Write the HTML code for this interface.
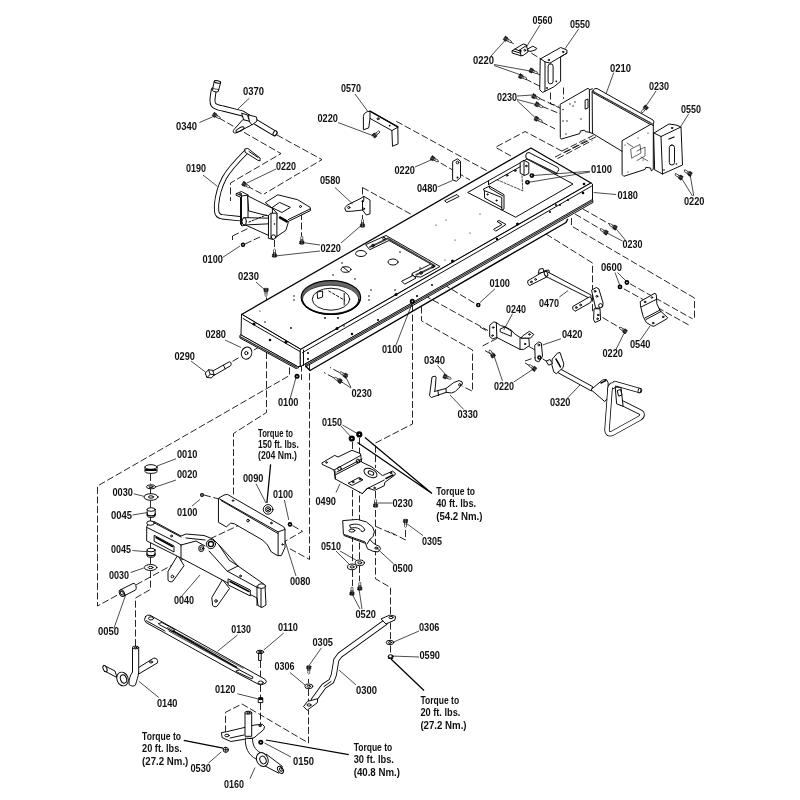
<!DOCTYPE html>
<html><head><meta charset="utf-8"><style>
html,body{margin:0;padding:0;background:#fff;width:800px;height:800px;overflow:hidden}
svg{display:block;filter:grayscale(100%)}
.s{stroke:#000;stroke-width:0.95;fill:none;stroke-linejoin:round;stroke-linecap:round}
.s .w,.w{fill:#fff}
.s .f,.f{fill:#000;stroke:none}
.h{stroke-width:1.3;stroke-dasharray:0.5 0.7;stroke:#333}
.d{stroke:#000;stroke-width:0.85;fill:none;stroke-dasharray:7 2.6}
.ld{stroke:#000;stroke-width:0.7;fill:none}
.l text{font-family:"Liberation Sans",sans-serif;font-size:11.2px;font-weight:bold;fill:#111}
.t text{font-family:"Liberation Sans",sans-serif;font-weight:bold;fill:#111}
</style></head><body>
<svg width="800" height="800" viewBox="0 0 800 800">
<rect width="800" height="800" fill="#fff"/>
<g id="dashed" class="d">
<path d="M219,118 L281,153.6 L230.5,183 L230.5,201"/>
<path d="M277,135 L322,159.6 L264,194"/>
<path d="M247,186 L262,194"/>
<path d="M232.5,236 L250,227.5 M232.5,236 L232.5,240"/>
<path d="M301.5,213 L301.5,238 M274.5,240 L274.5,250"/>
<path d="M245,244 L262,236"/>
<path d="M289.5,367.5 L289.5,375.5 L97.5,486 L97.5,606 L205,547"/>
<path d="M150.5,571 L150.5,589.4 L135.5,598 L135.5,646"/>
<path d="M150.5,474 L150.5,484 M150.5,489 L150.5,494 M150.5,500.5 L150.5,508 M150.5,518 L150.5,521 M150.5,542 L150.5,548 M150.5,557.5 L150.5,564.5"/>
<path d="M266.5,352 L266.5,412.5 L233.5,433.5 L233.5,496"/>
<path d="M309.5,354 L309.5,559.5 L287.5,547.5"/>
<path d="M204,495 L219,499"/>
<path d="M210,538.8 L247.5,521.3"/>
<path d="M292.5,525.6 L302.5,531.3 L285,541.3"/>
<path d="M232.5,361.3 L241,356.5 M253.8,350 L267.5,342.5"/>
<path d="M266.5,297.5 L266.5,312.5"/>
<path d="M301.5,355 L301.5,380"/>
<path d="M348,377 L330,367.5 M342.5,382.5 L324,372.5"/>
<path d="M352.5,442 L352.5,520 M352.5,535 L352.5,564 M352.5,570 L352.5,586"/>
<path d="M359.5,438 L359.5,520 M359.5,533 L359.5,560 M359.5,566 L359.5,581"/>
<path d="M375.5,491 L375.5,501 M375.5,510 L375.5,578.8 L390.5,587.5 L390.5,614"/>
<path d="M375.5,526.3 L395,535"/>
<path d="M405.5,530 L405.5,540 L388,531"/>
<path d="M412.5,305 L412.5,424 L375.5,443 L375.5,468"/>
<path d="M260.5,661 L260.5,680 M260.5,685 L260.5,697 M260.5,703 L260.5,724"/>
<path d="M225.5,732.5 L225.5,712.3 L242,704 L308.5,743 L308.5,710 M308.5,679 L308.5,683 M308.5,689 L308.5,703"/>
<path d="M390.5,622.5 L390.5,640 M390.5,645.5 L390.5,653.5"/>
<path d="M630,283.8 L692.5,318.8 M623.8,288.8 L688.8,325"/>
<path d="M602.5,317.5 L623.8,330"/>
<path d="M416,290.8 L488,330.5 M435.5,279.5 L477.5,305"/>
<path d="M421.5,306.5 L421.5,320.8 L472.5,350 L472.5,391.3 L462.5,386.3"/>
<path d="M482.5,346 L498.8,337.5 M485,350.6 L492.5,355"/>
<path d="M525,361 L535,357.5 M525,363 L533.8,368 M528.8,346.3 L535,350 M542.5,358.8 L548,362"/>
<path d="M480,327 L487.5,331.3"/>
<path d="M507.5,40.5 L515,44.4 M531.3,53.1 L540.6,58.8 M535,72.5 L540,75 M525,78.8 L540,86.3"/>
<path d="M550.5,92.5 L550.5,103.8 L558.8,106.3 M563.5,87.5 L563.5,98.8"/>
<path d="M538.8,98.1 L560,108.1 M541.9,106.3 L560,113.8 M541.3,121.9 L555,128.8"/>
<path d="M511,156 L495.4,147.3 L525.1,131.5 L564.5,152.5"/>
<path d="M564.5,152.5 L596,136.8 M562,151 L593.5,135.3 M557.5,158.6 L592.5,140.3 M555,157.1 L590,138.8"/>
<path d="M583,209 L612,225.5 M575,214 L603,230.5"/>
<path d="M571.5,218 L571.5,226 L694.5,298 L694.5,320 M546,234 L592.5,263 L592.5,312"/>
<path d="M690,174 L683,169 M681,177.5 L674,173"/>
<path d="M396.3,121.3 L490,172.5 M432.5,158.3 L470,180"/>
<path d="M362.5,187.5 L412.5,215 M362.5,187.5 L362.5,195 M362.5,215 L362.5,222"/>
<path d="M374.5,135.5 L380,132"/>
</g>

<g id="frame" class="s">
<path class="w" d="M241.5,314.5 L531,148 L591,183 L300.5,349.5 Z" stroke-width="1.25"/>
<path class="w" d="M241.5,314.5 L241,335 L297.5,366.5 L300.5,366.5 L300.5,349.5 Z"/>
<path class="w" d="M300.5,349.5 L591,183 L592.5,184 L592.5,201 L300.5,366.5 Z"/>
<path d="M243,318.5 L299.5,351.3"/>
<path d="M302.5,352.6 L591.5,186.2"/>
<path d="M303.5,350 L303.5,365.5"/>
<!-- end flange -->
<path class="w" d="M240,335.5 L240,338 L296,368.5 L299,367.5 L297.5,366.5 L241,335Z"/>
<path class="h" d="M240,336.7 L297,367.5"/>
<!-- front flange -->
<path class="w" d="M306,363.6 L592.5,199.4 L593,202.4 L306,366.6 Z"/>
<path class="h" d="M306,365.1 L592.5,200.9"/>
<path d="M310,370.5 L566,222.5 L567.5,219.5 M310,370.5 L306,366.6" stroke-width="1.4"/>
<!-- rivets/holes on frame -->
<g class="f">
<circle cx="254" cy="324" r="1.6"/><circle cx="286" cy="342" r="1.6"/>
<circle cx="270" cy="340" r="1.3"/>
<circle cx="337" cy="328.5" r="1.5"/><circle cx="396" cy="294.5" r="1.5"/>
<circle cx="452.5" cy="261" r="1.5"/><circle cx="517.5" cy="224" r="1.5"/>
<circle cx="308" cy="353" r="1"/><circle cx="308" cy="359" r="1"/>
<circle cx="352" cy="334" r="1.2"/><circle cx="378" cy="320" r="1.1"/>
<circle cx="417" cy="296" r="1.1"/><circle cx="432" cy="285" r="1"/>
<circle cx="497" cy="239" r="1.2"/><circle cx="550" cy="212" r="1"/>
<circle cx="560" cy="205" r="1"/><circle cx="568" cy="200" r="1"/>
<circle cx="583" cy="193" r="1.3"/><circle cx="584" cy="184" r="1.3"/>
<circle cx="556" cy="205" r="1"/>
</g>
<!-- top face holes -->
<g class="f">
<circle cx="265" cy="322" r="0.8"/><circle cx="260" cy="311" r="0.6"/><circle cx="291" cy="328" r="0.9"/>
<circle cx="294" cy="300" r="0.8"/><circle cx="294" cy="296" r="0.8"/>
<circle cx="369" cy="296" r="0.8"/><circle cx="369" cy="300" r="0.8"/>
<circle cx="325" cy="318" r="0.9"/><circle cx="338" cy="318" r="0.9"/>
<circle cx="344" cy="326" r="0.8"/><circle cx="341" cy="309" r="0.8"/>
<circle cx="355" cy="279" r="0.8"/><circle cx="333" cy="275" r="0.8"/>
<circle cx="342" cy="263" r="0.8"/><circle cx="400" cy="252" r="0.8"/>
<circle cx="395" cy="290" r="0.8"/><circle cx="371" cy="290" r="0.8"/>
<circle cx="412" cy="275" r="0.8"/><circle cx="420" cy="268" r="0.8"/>
<circle cx="445" cy="260" r="0.6"/><circle cx="455" cy="240" r="0.6"/>
<circle cx="470" cy="233" r="0.6"/><circle cx="480" cy="214" r="0.6"/>
<circle cx="436" cy="225" r="0.6"/><circle cx="446" cy="220" r="0.6"/>
<circle cx="505" cy="193" r="0.6"/><circle cx="507" cy="196" r="0.6"/>
</g>
<!-- ring -->
<ellipse cx="330.9" cy="297.5" rx="29.75" ry="16.9" fill="#666" stroke="#000" stroke-width="1.1"/>

<ellipse class="w" cx="330.6" cy="299.4" rx="28.1" ry="14.2" stroke-width="0.7"/>
<path d="M302,300 C305,310 320,314.4 331,314.4 C342,314.4 357,310 360,300" stroke-width="1.3"/>
<ellipse class="w" cx="331" cy="299.2" rx="18.75" ry="11" stroke-width="0.9"/>
<path d="M317.5,292 L322.6,291 L322.6,297 L318,298.5 Z"/>
<path d="M328.8,291 L344.7,300.3" stroke-dasharray="2.5 2"/>
<path d="M344.2,293.3 L344.2,305"/>
<!-- ribbed plate -->
<path class="w" d="M366,244.5 L386,235.5 L440,266.5 L421,277 L414,276.5 L412,273.5 L431,264 L389,240.5 L370,249.5 Z"/>
<path d="M370,247 L388,238.5 L435,266 L416,275" stroke-width="1.8" stroke="#444" stroke-dasharray="0.5 0.6"/>
<circle cx="373" cy="245.5" r="1.3"/><circle cx="384" cy="238.5" r="1.3"/>
<circle cx="421" cy="273" r="1.3"/><circle cx="433" cy="266.5" r="1.3"/>
<!-- holes on plate area -->
<ellipse class="w" cx="361" cy="253.5" rx="5.5" ry="3"/>
<ellipse class="w" cx="346" cy="269.5" rx="5" ry="2.8"/>
<path d="M343,267 L349,272"/>
<ellipse class="w" cx="393" cy="262" rx="5" ry="3"/>
<path class="w" d="M402,281 L413,275.5 L416,278 L405,284 Z"/>
<path class="w" d="M445,200.5 L457,194.5 L459,196.5 L447,202.5 Z"/>
<path class="w" d="M494,229 L502,224.5 L497,221.5 L499,220.5 L506,224.5 L496,231 Z"/>
<!-- rear opening -->
<path class="w" d="M468,192.3 L527,159 L573,184 L516,217 Z"/>
<path d="M488.5,184.6 L521.5,166 M488.5,181 L488.5,184.6"/>
<circle cx="507" cy="175.3" r="0.9"/><circle cx="515.2" cy="170.6" r="0.9"/>
<path d="M522,175.8 L522.8,190.8 L496.5,179.5" stroke-dasharray="2.2 1.5" stroke-width="0.7"/>
<!-- hat bracket inside -->
<path class="w" d="M483.8,188.8 L489.5,186.2 L504,194.6 L504,209 L501.8,210 L501.8,197.5 L484.4,190.6 Z"/>
<path d="M484.4,190.6 L484.6,198 L501.8,207.5 M489.5,186.2 L489.5,188.2 L503,196"/>
<circle cx="487.5" cy="194.5" r="0.6"/><circle cx="496.5" cy="200.5" r="0.6"/>
<!-- rear top rail -->
<path class="w" d="M520.5,162.3 L524,160.3 L528.8,162.8 L528.8,173.5 L524.5,175.5 L520.5,173.3 Z"/>
<path d="M524,160.5 L524,175.3"/><circle cx="526.3" cy="166" r="0.8"/>
<path class="w" d="M526,157.8 L525.8,155 Q526.5,152.3 529,152.5 L558,167.5 Q559.5,169.5 558,171.5 L556.5,172.8 Z"/>
<path class="h" d="M528.5,159.6 L557,173.6"/>
</g>

<g id="ul" class="s">
<!-- lever 0370 rod -->
<path d="M213.8,90 C213,96 211.3,101 213.3,104.5 C215.3,107.3 219,107.8 223,108.5 L242,113.3 L253,120.3 L274.5,133.3" stroke-width="6"/>
<path d="M213.8,90 C213,96 211.3,101 213.3,104.5 C215.3,107.3 219,107.8 223,108.5 L242,113.3 L253,120.3 L274.5,133.3" stroke="#fff" stroke-width="4.1"/>
<path class="w" d="M214.2,81.4 L212.4,90.6 C213.5,91.8 216.5,92.2 218.2,91.7 L220.7,82.4 Z"/>
<ellipse class="w" cx="217.5" cy="81.9" rx="3.2" ry="1.2" transform="rotate(12 217.5 81.9)"/>
<path d="M213,88.6 L218.8,89.6" stroke-width="0.7"/>
<path class="w" d="M242.5,120 L234,129.5 C232,132 234,134 237,132.5 L251.5,125 L253,120 Z"/>
<ellipse cx="240" cy="129.5" rx="4.5" ry="1.6" transform="rotate(-30 240 129.5)"/>
<path class="w" d="M249,115 L256.5,117 L257,121 L252,125 L249,121 Z"/>
<path class="w" d="M242,113.3 L247.5,115 L249.5,121.3 L244,119.8 Z"/>
<ellipse class="w" cx="275" cy="133.2" rx="1.7" ry="2.6" transform="rotate(30 275 133.2)"/>
<!-- 0340 screw -->

<!-- pedal 0190 -->
<path d="M246.5,151.5 C238,160 229.5,168.5 224.3,178 C219.5,187 217.2,197 216.5,205 L216.6,211 C216.8,214.5 218.7,216.2 222,216.8 L240,218.7" stroke-width="5.2"/>
<path d="M246.5,151.5 C238,160 229.5,168.5 224.3,178 C219.5,187 217.2,197 216.5,205 L216.6,211 C216.8,214.5 218.7,216.2 222,216.8 L240,218.7" stroke="#fff" stroke-width="3.4"/>
<path class="w" d="M245,149 L247.8,148.4 L260.1,158 L260.1,160.8 L257.9,160.3 L245.5,152.5 Z"/>
<path d="M249,151.5 L258,157.5"/>
<!-- bracket -->
<path class="w" d="M236.5,193.5 L241.5,191.5 L248,195 L248,224 L242,226 L240.5,224 L240.5,197 L236.5,195.5 Z"/>
<path d="M241.5,195.8 L241.5,225.5 M236.5,193.5 L242,196 L248,195"/>
<circle cx="240.5" cy="194" r="0.9"/>
<path class="w" d="M248,196 L272.4,208.3 L272.4,217 L249,211 Z"/>
<path class="w" d="M244,217.6 L285,218.6 L286,223 L244.5,225 Z"/>
<ellipse class="w" cx="244.2" cy="221.4" rx="2.2" ry="3.6"/>
<path d="M245,224.8 L268.8,235.5"/>
<path d="M249,222 L266.3,215" stroke-dasharray="2 1.6"/>
<path class="w" d="M265.6,202.4 L277.8,194.8 L297.6,199.7 L310.2,207.4 L310.6,210.5 L288.6,221.3 L285.9,230.3 L276,237 L276.9,213.2 L272.4,208.3 Z"/>
<path d="M310.2,208.9 L288.3,219.6"/>
<path class="w" d="M272.4,207.4 L279.6,202.4 L290.4,207.4 L282.3,212.3 Z"/>
<path d="M280,217.5 L287,221.5" stroke-width="2.6" stroke-dasharray="0.6 0.6"/>
<path class="w" d="M268.8,215 L270.6,213.2 L276.9,213.2 L276.9,236.6 L273,239.5 L268.8,238.4 Z"/>
<path d="M271,213.5 L271,238.5"/>
<circle class="w" cx="273.5" cy="237" r="2.2"/>
<circle cx="274.5" cy="224" r="0.8" class="f"/>
<circle cx="300.5" cy="206.5" r="1" />
<!-- screws -->
<circle class="f" cx="243" cy="244.7" r="2.2"/><circle cx="243" cy="244.7" r="0.7" fill="#fff" stroke="none"/>
</g>

<g id="axle" class="s">
<!-- stack 0010..0045 -->
<path class="w" d="M145,467 L145,471.5 C145,474 157,474 157,471.5 L157,467 Z"/>
<ellipse class="w" cx="151" cy="467" rx="6" ry="2.3"/>
<path d="M146,470 L156,470" stroke-width="2.2" stroke-dasharray="0.6 0.7"/>
<ellipse class="w" cx="151" cy="486.8" rx="4.5" ry="2"/><ellipse cx="151" cy="486.8" rx="2" ry="0.9"/>
<ellipse class="w" cx="151" cy="497" rx="7" ry="3.3"/><ellipse cx="151" cy="497" rx="2.6" ry="1.2"/>
<path class="w" d="M147.2,509.5 L147.2,515.5 C147.2,518.3 155.2,518.3 155.2,515.5 L155.2,509.5 Z"/>
<ellipse class="w" cx="151.2" cy="509.5" rx="4" ry="1.8"/>
<path d="M147.2,514 C147.2,516.5 155.2,516.5 155.2,514" stroke-width="1.4"/>
<path class="w" d="M147,550 L147,555.5 C147,558 155,558 155,555.5 L155,550 Z"/>
<ellipse class="w" cx="151" cy="550" rx="4" ry="1.8"/>
<path d="M147,554 C147,556.3 155,556.3 155,554" stroke-width="1.4"/>
<ellipse class="w" cx="150.6" cy="567.5" rx="6.3" ry="3"/><ellipse cx="150.6" cy="567.5" rx="2.4" ry="1.1"/>
<!-- pin 0050 -->
<path class="w" d="M120.5,589.8 L133,583.5 C136,582.5 137,588.5 135.5,590 L123.2,596.4 Z"/>
<ellipse class="w" cx="121.9" cy="593.1" rx="2.4" ry="3.4" transform="rotate(-25 121.9 593.1)"/>
<ellipse cx="121.9" cy="593.1" rx="1.3" ry="2" transform="rotate(-25 121.9 593.1)"/>
<!-- axle tabs -->
<path class="w" d="M177.6,555.5 L168,571.3 L168,580 C168.5,582 171.5,582.5 173,581 L183.8,566 Z"/>
<circle cx="172.4" cy="576.5" r="1.3"/>
<path class="w" d="M222.3,580 L211.8,597.5 L212.6,605.4 C214,607 216,607 217,606.3 L229.3,588.8 Z"/>
<circle cx="216" cy="601" r="1.3"/>
<!-- axle body -->
<path class="w" d="M147,526 L150,522 L154,521.5 L181,536 L186,534 L204,535.5 L213,539 L219,545 L238,566 L258,580 L265,585 L266,605 L262,607.5 L258,605.5 L257,598 L228,583 L181,558 L147,541 Z"/>
<path d="M147,527.5 L177,542.5 L181,545 M181,545 L181,558"/>
<path d="M153.5,522.5 L181,537"/>
<path class="w" d="M154.5,535.5 L174,546 L174,552 L154.5,541.5 Z"/>
<path d="M156,537.5 L172.5,546.5" stroke-width="1.5"/>
<path d="M181,545 L196,541 L205,546 M186,538 L205,540"/>
<path d="M209,551 L227,571 L258,588 M219,545 L229,560 L238,566"/>
<path d="M228,571 L238,566"/>
<path class="w" d="M228.4,579 L250.3,590 L250.3,596 L228.4,585 Z"/>
<path d="M230,581.5 L249,591.5" stroke-width="1.5"/>
<path d="M257,586 L257,605.5 M261,588 L261,607"/>
<ellipse class="w" cx="261.6" cy="586.1" rx="4" ry="2.3"/>
<ellipse class="w" cx="150.5" cy="523.1" rx="3.8" ry="2.2"/>
<circle class="w" cx="210.9" cy="544.1" r="4.6"/><circle cx="210.9" cy="544.1" r="2.6" stroke-width="1.3"/>
<ellipse class="w" cx="201.3" cy="548.5" rx="2.6" ry="3.2"/><ellipse cx="201.3" cy="548.5" rx="1.2" ry="1.6"/>
<circle cx="171.5" cy="536" r="0.9"/><circle cx="240.5" cy="576" r="0.9"/>
<!-- block 0080 -->
<path class="w" d="M218.8,498.1 L224,495 L227.5,494.4 L283.8,526.9 L285,529.4 L285,547.5 L281.3,555.6 L277.5,555.6 L271.3,551.9 L267.5,545 L262.5,540 L234.4,523.8 L230.6,523.1 L226.3,526.9 L218.8,522.5 Z"/>
<path d="M219.4,498.8 L278.1,531.9 L285,529.4 M221,500.5 L278,533.5 M278.1,531.9 L278.1,555.6"/>
<circle cx="233" cy="500.6" r="0.8"/><circle cx="271.3" cy="523" r="0.8"/>
<circle cx="248" cy="520.6" r="1.3"/><circle cx="282.5" cy="544.4" r="0.7"/>
<!-- nuts -->
<circle class="w" cx="268.1" cy="509.4" r="4.8"/><circle cx="268.1" cy="509.4" r="2.7"/><circle cx="268.1" cy="509.4" r="1.3"/>
<circle class="f" cx="290" cy="524.4" r="2.3"/><circle cx="290" cy="524.4" r="0.7" fill="#fff" stroke="none"/>
<circle class="f" cx="202" cy="495" r="2"/><circle cx="202" cy="495" r="0.7" fill="#fff" stroke="none"/>
</g>

<g id="mid" class="s">
<!-- 0280 washer, 0290 bolt -->
<ellipse class="w" cx="246.6" cy="353.1" rx="5.2" ry="6.2" transform="rotate(20 246.6 353.1)"/>
<circle cx="246.3" cy="353.1" r="1.6"/>
<path class="w" d="M212.5,371.2 L229.3,361.8 C231,361.3 232,364.5 230.5,365.8 L213.8,375.5 Z"/>
<path d="M223.5,365.2 L225.2,368.8"/>
<path class="w" d="M205.5,372.8 L208.5,369.8 L212.5,370.3 L214.3,374.8 L211.3,378 L207.2,377.4 Z"/>
<path d="M208.5,369.8 L210.2,374.2 L214.3,374.8 M210.2,374.2 L207.2,377.4"/>
<!-- 0230 screw above frame -->

<!-- 0100 nut under frame -->
<circle class="f" cx="297" cy="376.3" r="2.5"/><circle cx="297" cy="376.3" r="0.7" fill="#fff" stroke="none"/>
<!-- 0230 screws right of frame end -->
<!-- 0150 nuts -->
<circle class="f" cx="351.8" cy="438.5" r="3.1"/><circle cx="351.8" cy="438.5" r="0.7" fill="#fff" stroke="none"/>
<circle class="f" cx="359.3" cy="434.4" r="3.1"/><circle cx="359.3" cy="434.4" r="0.7" fill="#fff" stroke="none"/>
<!-- 0490 plate -->
<path class="w" d="M322.3,462.7 L334.7,455.4 L338,457 L352,450.3 L360.6,453.7 L361.5,462 L372,467 L382.5,475.6 L392.6,471.1 L395.4,473.4 L394.9,475 L384.8,482.4 L384.2,485.8 L374.6,490.3 L368,488 L362.3,493.6 L335.3,479 L334.1,470 L322.5,464.5 Z"/>
<path d="M334.1,470 L360.6,455.5 M335.3,479 L335,471 M337,472 L362,459 M336,474.5 L361,461.5"/>
<path d="M362.3,493.6 L366.5,489 L368,488 M366.5,489 L384.2,480"/>
<ellipse class="w" cx="370.5" cy="473" rx="7" ry="4" transform="rotate(25 370.5 473)"/>
<ellipse cx="371" cy="473" rx="3" ry="1.8" transform="rotate(25 371 473)"/>
<path class="w" d="M348.5,483 L359,477.5 L363,479.8 L352.5,485.3 Z"/>
<circle cx="353" cy="482" r="0.9"/><circle cx="360" cy="479" r="0.9"/>
<circle cx="358" cy="461" r="1.8"/><circle cx="339.5" cy="468.5" r="1.8"/>
<circle cx="326.5" cy="462.5" r="0.8"/><circle cx="391" cy="473" r="0.8"/><circle cx="374.5" cy="488" r="0.8"/>
<path d="M386,478.5 L393,475" stroke-width="1.6" stroke-dasharray="0.6 0.6"/>
<!-- 0230 screw below 0490 -->

<!-- 0305 -->

<!-- 0500 -->
<path class="w" d="M343.1,520.6 L357.5,519.4 L366.3,521.9 L372.5,526.9 L374.4,531.9 L373.1,536.3 L370,539.4 L372.5,542.5 L376.3,545 L379.4,546.3 L380.6,548.8 L378.1,551.9 L373.1,551.3 L367.5,548.8 L365,541.9 L343.8,534.4 Z"/>
<path d="M344,535.5 L364.5,543 M370,539.4 L367,544"/>
<ellipse cx="351.9" cy="530.6" rx="3" ry="1.5"/>
<path d="M350,525 C356,523 362,524 365,530 L362,532 C360,528 356,527 351,528 Z"/>
<ellipse cx="376.3" cy="548.1" rx="1.6" ry="1"/>
<!-- 0510 washers -->
<ellipse class="w" cx="359.8" cy="562.8" rx="4.6" ry="2.8"/><ellipse cx="359.8" cy="562.8" rx="2" ry="1.1"/>
<ellipse class="w" cx="352.1" cy="566.9" rx="4.6" ry="2.8"/><ellipse cx="352.1" cy="566.9" rx="2" ry="1.1"/>
<!-- 0520 screws -->


</g>

<g id="low" class="s">
<!-- tie rod 0130 -->
<path class="w" d="M145.5,616.5 Q147,614.5 150,615.2 L264.9,679.2 Q267.5,681.3 265.5,683.3 L262,684.6 Q260,685.2 258,684 L237,673 L165,633 L146,622.5 Q143,620 145.5,616.5 Z"/>
<path d="M146.5,620.8 L165,631"/>
<ellipse class="w" cx="151" cy="618.4" rx="2.6" ry="1.6"/>
<ellipse class="w" cx="260.7" cy="682.6" rx="2.6" ry="1.6"/>
<path class="w" d="M158.6,623.5 L162,622.5 L174.5,629.5 L173.5,632 L160,625 Z"/>
<path d="M167.5,627.5 L243,668.2 M168.7,629.8 L240,669.5 M169,631.2 L238,669" stroke-width="0.7"/>
<path d="M173,631 L237,667.5" stroke-width="1.4" stroke-dasharray="0.5 0.6"/>
<path class="w" d="M236.2,671 L239.5,670 L253,677 L252,679 L238,672.5 Z"/>
<!-- 0110 bolt -->
<ellipse class="w" cx="260" cy="652" rx="3.6" ry="1.8"/><ellipse cx="260" cy="652" rx="1.6" ry="0.8"/>
<path class="w" d="M259,653.5 L261.2,653.5 L261.2,660.5 L259,660.5 Z"/>
<!-- 0120 nut -->
<path class="w" d="M258.6,698 L262.8,698 L262.8,702.6 L258.6,702.6 Z"/><ellipse class="f" cx="260.7" cy="698.6" rx="2.4" ry="1.6"/>
<!-- spindle 0140 -->
<path class="w" d="M137.5,668.2 L153.8,658.1 Q156.8,657.6 157.6,660.5 L157.6,662.8 L139,673.8 Z"/>
<ellipse cx="151" cy="662" rx="1.6" ry="1"/>
<path class="w" d="M132.5,647.5 L132.5,672 C130.5,675 128.5,679.5 129,684.5 C131,686.5 134,686.5 135.5,685 C136.5,681 138.5,676 138.7,672 L138.7,647.5 Z"/>
<ellipse class="w" cx="135.6" cy="647.5" rx="3.1" ry="1.4"/><ellipse cx="135.6" cy="647.5" rx="1.3" ry="0.6"/>
<path class="w" d="M104,665.5 L115,671 L117,677.5 L106,671.8 Z"/>
<ellipse class="w" cx="105" cy="668.7" rx="1.8" ry="3.3" transform="rotate(-25 105 668.7)"/>
<ellipse class="w" cx="122.5" cy="679" rx="5.6" ry="7" transform="rotate(-20 122.5 679)"/>
<ellipse cx="123.5" cy="679" rx="3" ry="4.2" transform="rotate(-20 123.5 679)"/>
<!-- spindle 0160 -->
<path class="w" d="M221.8,732.5 L226.3,731.8 L254.8,725 L262.3,724.3 L264.5,726.5 L263.8,729.5 L254,737.8 L244.3,739.3 L230.8,741.5 L222.5,737.8 Z"/>
<ellipse cx="227" cy="735.5" rx="2.2" ry="1.3"/><ellipse cx="260" cy="725.8" rx="1.2" ry="0.8"/>
<path d="M230,738 L244,735" />
<path class="w" d="M245.3,738.5 C245,748 248.5,755 256,759 L260,752.5 C255,749.5 252.5,745 252.5,739 Z" stroke-width="0.9"/>
<path class="w" d="M245,712.7 L245,736.3 L251.7,736.3 L251.7,712.7 Z"/>
<ellipse class="w" cx="248.3" cy="712.7" rx="3.3" ry="1.5"/><ellipse cx="248.3" cy="712.7" rx="1.5" ry="0.7"/>
<path class="w" d="M266.5,754.3 L282.3,766.3 L278.8,773.2 L263.5,765.2 Z"/>
<ellipse class="w" cx="280.5" cy="769.8" rx="2.5" ry="3.9" transform="rotate(-35 280.5 769.8)"/>
<ellipse cx="280.9" cy="769.6" rx="1.1" ry="1.9" transform="rotate(-35 280.9 769.6)"/>
<ellipse class="w" cx="262.3" cy="759.5" rx="5.6" ry="7.2" transform="rotate(-25 262.3 759.5)"/>
<ellipse cx="263" cy="760" rx="3" ry="4" transform="rotate(-25 263 760)"/>
<!-- 0150, 0530 nuts -->
<circle class="f" cx="260.8" cy="742.3" r="2.5"/><circle cx="260.8" cy="742.3" r="0.7" fill="#fff" stroke="none"/>
<circle class="w" cx="225.8" cy="749.8" r="2.6"/><path d="M223.5,749.8 L228,749.8 M225.8,747.5 L225.8,752"/>
<!-- drag link 0300 -->
<path d="M313.8,700 L323.8,686.3 L331.3,681.3 L333.8,675 L336.3,660 L340,655 L385,622.5" stroke-width="6"/>
<path d="M313.8,700 L323.8,686.3 L331.3,681.3 L333.8,675 L336.3,660 L340,655 L385,622.5" stroke="#fff" stroke-width="4.3"/>
<path d="M324,686.5 L331,681.5"/>
<path class="w" d="M303.8,706.3 L307.5,701.3 L317.5,698.8 L317.5,702.5 L307.5,710 Z"/>
<ellipse cx="309" cy="705" rx="2" ry="1.2"/>
<path class="w" d="M381.3,618.8 L390,615 L395.5,616.3 L395,620 L386.3,623.8 Z"/>
<ellipse cx="391" cy="617.5" rx="2" ry="1.2"/>
<!-- 0305 / 0306 / 0590 -->

<ellipse class="w" cx="308.8" cy="686.3" rx="4" ry="2.4"/><ellipse cx="308.8" cy="686.3" rx="1.6" ry="1"/>
<ellipse class="w" cx="390" cy="642.5" rx="3.8" ry="2.2"/><ellipse cx="390" cy="642.5" rx="1.5" ry="0.9"/>
<ellipse class="w" cx="390.6" cy="656.3" rx="2.4" ry="1.6"/><path d="M388.4,656.3 L388.4,658.5 L392.8,658.5 L392.8,656.3"/>
</g>

<g id="right" class="s">
<!-- 0470 -->
<path class="w" d="M528.1,280.6 L545,270.6 L548.8,270 L549.4,272.5 L546.9,276.9 L529.4,285.6 L528.1,283.8 Z"/>
<path class="w" d="M538.3,273 L539.3,269.2 L543,268.4 L543.8,271.6 Z"/>
<circle cx="531.3" cy="281.9" r="0.9"/><circle cx="535.6" cy="279.4" r="0.9"/>
<path class="w" d="M546.3,271.2 L591,295 L591,299 L545.6,276.3 Z"/>
<ellipse class="w" cx="546" cy="273.8" rx="1.6" ry="2.5" transform="rotate(-25 546 273.8)"/>
<path class="w" d="M573.1,306.3 L589.4,296.9 L591.9,298.8 L590.6,302.5 L575,311.3 L573.1,309.4 Z"/>
<circle cx="576.3" cy="307.5" r="0.9"/><circle cx="580.6" cy="305" r="0.9"/>
<path class="w" d="M594.4,308.8 L600,308.8 L600.6,320 L595,322.5 L593.8,320 Z"/>
<circle cx="598.1" cy="315" r="0.8"/><circle cx="597.5" cy="318.8" r="0.8"/>
<path class="w" d="M591.9,290 L596.3,287.5 L598.8,288.8 L603.1,303.1 L602.5,306.9 L600,308.1 L595.6,308.1 L591.9,291.9 Z"/>
<circle cx="595" cy="291.3" r="0.9"/><circle cx="596.9" cy="296.3" r="0.9"/><circle class="w" cx="600.6" cy="305.6" r="2"/>
<!-- 0600 nuts -->
<circle class="f" cx="626.9" cy="282.5" r="2.4"/><circle class="f" cx="620" cy="286.9" r="2.4"/>
<circle cx="626.9" cy="282.5" r="0.7" fill="#fff" stroke="none"/><circle cx="620" cy="286.9" r="0.7" fill="#fff" stroke="none"/>
<!-- 0540 -->
<path class="w" d="M640.6,301.3 L655,293.1 L656.3,295 L656.9,303.8 L660,310.6 L667.5,317.5 L666.9,318.8 L653.8,326.3 L651.3,325.6 L646.3,322.5 L643.1,316.3 L640.6,306.3 Z"/>
<path d="M641.3,306.9 L656.3,299.4 M645,318 L660,310 M646,319.5 L661,311.5"/>
<circle cx="645" cy="301.9" r="0.8"/><circle cx="651.9" cy="297.5" r="0.8"/><circle cx="653.1" cy="323.1" r="0.8"/><circle cx="663.1" cy="316.9" r="0.8"/>
<!-- 0220 screw near 0540 -->
<!-- 0100 nut -->
<circle class="f" cx="478.3" cy="305" r="2.3"/><circle cx="478.3" cy="305" r="0.7" fill="#fff" stroke="none"/>
<circle class="f" cx="412.3" cy="301.3" r="2.5"/><circle cx="412.3" cy="301.3" r="0.7" fill="#fff" stroke="none"/>
<!-- 0240 -->
<path class="w" d="M496.3,322.5 L500.6,325.6 L505.6,326.9 L511.9,330.6 L513.8,333.1 L516.3,335 L521.3,338.1 L528.8,338.1 L529.4,345.6 L523.8,349.4 L520,349.4 L496.9,337.5 Z"/>
<path class="w" d="M490,325 L493.8,321.9 L496.3,322.5 L496.9,337.5 L492.5,338.8 L490,336.9 Z"/>
<circle cx="493.1" cy="327.5" r="0.8"/><circle cx="492.5" cy="335.6" r="0.8"/>
<path class="w" d="M500.6,328.8 L505,327 L511.3,331 L511.3,336.3 L500.6,332 Z"/>
<path d="M520,338.1 L520,349.4"/>
<path class="w" d="M523.1,335.6 L529.4,331.3 L533.8,334.4 L530.6,338.1 L521.3,338.1 Z"/>
<circle cx="529.4" cy="334.4" r="0.8"/><circle cx="525" cy="344" r="0.7"/>
<!-- 0420 -->
<path class="w" d="M535,345 L538.8,341.9 L541.3,343.1 L542.5,356.3 L538.8,361.9 L535.6,360.6 Z"/>
<circle cx="538.8" cy="345" r="0.9"/><circle class="f" cx="539.4" cy="357.5" r="2.2"/><circle cx="539.4" cy="357.5" r="0.7" fill="#fff" stroke="none"/>
<!-- 0220 screws -->
<!-- 0320 -->
<path class="w" d="M559.4,368.5 L592.5,386.5 L591.5,391 L558.5,373 Z"/>
<path class="w" d="M552.5,358.8 L557.5,353.1 L560,352.5 L563.8,363.8 L563.1,367.5 L556.3,373.8 L553.8,371.9 L551.9,365 Z"/>
<path d="M556,359 L560.5,367" stroke-width="1.6" stroke-dasharray="0.6 0.6"/>
<path class="w" d="M546.5,361 L550,359.5 L552.5,363.5 L549,365 Z"/>
<path class="w" d="M591.3,389.4 L602.5,380 L606.3,379.4 L608.1,382.5 L608.1,397.5 L605,401.3 Z"/>
<path d="M601,383 L606,380.5" stroke-width="1.5" stroke-dasharray="0.6 0.6"/>
<path d="M615,383.5 L639.5,390.5 M613.5,386 L613,385 C611,385 610,387 610,389 L607,430 C607,433 609,434.5 612,433.5 L640,418 C643,416 642.5,413 640,412 L620,402" stroke-width="5.4"/>
<path d="M615,383.5 L639.5,390.5 M613.5,386 L613,385 C611,385 610,387 610,389 L607,430 C607,433 609,434.5 612,433.5 L640,418 C643,416 642.5,413 640,412 L620,402" stroke="#fff" stroke-width="3.8"/>
<ellipse class="w" cx="639.5" cy="390.5" rx="1.4" ry="2.4" transform="rotate(15 639.5 390.5)"/>
<path class="w" d="M615.6,387 L621,387.5 L623.1,406.3 L617,404 Z"/>
<path class="w" d="M617.5,390.5 L620.5,389.5 L622,395 L619,396 Z"/>
<!-- 0330 -->
<path class="w" d="M432.4,376.9 L435.4,376.1 L436.1,377.3 L435,390 L434.3,391.5 L445.9,388.5 L453.8,382.5 L459,380.6 L462,381.8 L462.4,384 L459.8,387 L455.3,391.5 L451.5,393 L446.3,392.3 L431.3,397.5 L429.8,396 Z"/>
<path d="M445.9,388.5 L446.3,392.3 M438,390.8 L438.5,395.6"/>
<circle cx="459.8" cy="384.8" r="1.2"/>
</g>
<g id="topright" class="s">
<!-- 0560 -->
<path class="w" d="M528,48.8 L532.8,46.2 L536.8,48.4 L535.9,49.7 L531,51.4 L528.4,51 Z"/>
<path class="w" d="M512.3,50.6 L523.2,44 L526.3,44.9 L528,51.9 L523.2,55.4 L521,55.8 L512.7,53.2 Z"/>
<path d="M512.3,50.6 L520.6,53.2 L521,55.8 M520.6,53.2 L520.6,49.3 L526.3,45.6 M515,49 L521,51.5"/>
<circle cx="524.8" cy="50.3" r="0.9"/><circle cx="520" cy="50.5" r="0.8"/>
<!-- 0550 left -->
<path class="w" d="M540.6,58.8 L560.6,47.5 L566.9,50 L566.9,53.1 L560.6,56.9 L560.6,81.3 L553.8,86.9 L542.5,92.5 L540,90 Z"/>
<path d="M540.6,58.8 L545,61.9 L550,63.1 L566.9,53.1 M545,61.9 L545,91"/>
<rect class="w" x="548.1" y="63.8" width="5" height="20" rx="2.5"/>
<circle cx="548.8" cy="60" r="0.7"/><circle cx="563.1" cy="51.9" r="0.7"/><circle class="f" cx="556.3" cy="81.3" r="0.9"/><circle class="f" cx="547" cy="88" r="0.9"/>
<!-- screws -->
<!-- 0210 -->
<path class="w" d="M592.5,91 L653.3,123 L653.3,126 L622.4,151.5 L592.8,133.6 Z"/>
<path class="w" d="M593,92.3 L593.5,89.8 Q594.5,88.2 597,88.5 L653,120 Q654.6,121.8 653.5,123.6 L651,124.5 Z"/>
<path class="h" d="M593.8,91.9 L651.3,123.3"/>
<path class="w" d="M560.5,104.1 L588,88.3 L589.4,89.6 L589.4,132.3 L585.3,131.6 L584.6,130.2 L580.4,130.9 L579.8,133.6 L561.2,139.1 L560.5,137.8 Z"/>
<path d="M589.4,89.6 L592.5,88.9 M589.4,132.3 L592.8,133.6"/>
<g class="f"><circle cx="570" cy="104" r="0.7"/><circle cx="575" cy="102" r="0.7"/><circle cx="573" cy="106" r="0.7"/><circle cx="563" cy="109.5" r="0.7"/><circle cx="563" cy="121" r="0.7"/><circle cx="567" cy="121" r="0.7"/><circle cx="581" cy="119" r="0.7"/><circle cx="566" cy="134" r="0.7"/></g>
<path d="M585.5,100 L588,99 L588,108 L585.5,109 Z"/>
<path class="w" d="M622.4,140.5 L651.3,124 L653.3,126.1 L653.3,169.4 L651.3,170.8 L650.6,168 L645.8,167.3 L645.1,169.4 L623.8,176.3 L622.4,174.9 Z"/>
<path d="M631,149 L640,144.5 L641,153 L632,158 Z M637,151 L645,147 L645,156 L637,160.5" stroke-width="0.6"/>
<path d="M627,143 L633,147 M641,157 L648,161" stroke-width="0.6"/>
<g class="f"><circle cx="625" cy="145" r="0.6"/><circle cx="638" cy="138" r="0.6"/><circle cx="628" cy="172" r="0.6"/><circle cx="643" cy="160" r="0.6"/><circle cx="648" cy="133" r="0.6"/></g>
<!-- 0230 screw above 0210 -->
<!-- 0550 right -->
<path class="w" d="M654,133 L669,124 L676,125 L681,127 L682.5,165 L662.5,174 L655,170 Z"/>
<path d="M654,133 L661,136.5 L681,127 M661,136.5 L662.5,174"/>
<rect class="w" x="669.3" y="145" width="5.2" height="20" rx="2.6"/>
<path d="M669,139 L674,137" stroke-width="1.3"/>
<circle cx="672" cy="128" r="0.7"/><circle class="f" cx="664" cy="170" r="0.8"/><circle class="f" cx="676.5" cy="164" r="0.8"/>
<!-- 0230 lower screws -->
<!-- 0100 nuts inside -->
<circle class="f" cx="531.9" cy="175.6" r="2.4"/><circle class="f" cx="527.5" cy="182.3" r="2.4"/><circle cx="531.9" cy="175.6" r="0.8" fill="#fff" stroke="none"/><circle cx="527.5" cy="182.3" r="0.8" fill="#fff" stroke="none"/>
</g>
<g id="upmid" class="s">
<!-- 0570 -->
<path class="w" d="M363.4,129.4 L363.4,116.5 Q364,111.5 370,111.2 L397.8,126.9 L398.1,143.8 L392.5,146.3 L391.9,130.6 L370,118.4 L368.8,127.5 Z"/>
<path d="M370,111.5 L370,118.4 M391.9,130.6 L397.8,127.2"/>
<path d="M370,111.2 L397.8,126.9" stroke-width="1.4"/>
<circle cx="378.1" cy="118.8" r="1"/><circle class="f" cx="389.7" cy="125.6" r="0.9"/>
<!-- 0480 -->
<path class="w" d="M453,161.3 L457.5,158.8 L460.5,161.3 L460.5,177.5 L456.3,181.3 L453,180 Z"/>
<circle cx="457.5" cy="162.5" r="1.3"/><circle class="f" cx="457.5" cy="177.5" r="1"/>
<!-- 0580 -->
<path class="w" d="M345,207.5 L347.5,205 L360,198.8 L363.8,196.3 L370,200 L370,213.8 L366.3,215 L362.5,210 L351.3,211.3 L346.3,211.3 Z"/>
<path d="M363.8,196.3 L363.8,200.5 L362.5,201.5 M362.5,201.5 L362.5,210"/>
<circle cx="348.8" cy="207.5" r="1.1"/><circle cx="362.5" cy="201.3" r="0.7"/><circle cx="363.8" cy="208.8" r="0.8"/>
<!-- 0220 screw near 0480 label -->
<circle class="f" cx="432.5" cy="158.3" r="0.1"/>
</g>

<g id="screws" class="s">
<g transform="translate(505.6,38.8) rotate(30)"><path class="w" d="M1.8,-1.0 L5.7,-1.0 L6.6000000000000005,0 L5.7,1.0 L1.8,1.0 Z" stroke-width="0.6"/><path d="M3.0,-1.0 L3.0,1.0" stroke-width="0.5"/><rect x="-1.6800000000000002" y="-2.1" width="3.3600000000000003" height="4.2" rx="0.6" fill="#222" stroke="#000" stroke-width="0.5"/><path d="M-1.6800000000000002,0 L1.6800000000000002,0" stroke="#888" stroke-width="0.5"/></g>
<g transform="translate(531.3,70.6) rotate(22)"><path class="w" d="M1.8,-1.0 L5.7,-1.0 L6.6000000000000005,0 L5.7,1.0 L1.8,1.0 Z" stroke-width="0.6"/><path d="M3.0,-1.0 L3.0,1.0" stroke-width="0.5"/><rect x="-1.6800000000000002" y="-2.1" width="3.3600000000000003" height="4.2" rx="0.6" fill="#222" stroke="#000" stroke-width="0.5"/><path d="M-1.6800000000000002,0 L1.6800000000000002,0" stroke="#888" stroke-width="0.5"/></g>
<g transform="translate(520.6,76.3) rotate(22)"><path class="w" d="M1.8,-1.0 L5.7,-1.0 L6.6000000000000005,0 L5.7,1.0 L1.8,1.0 Z" stroke-width="0.6"/><path d="M3.0,-1.0 L3.0,1.0" stroke-width="0.5"/><rect x="-1.6800000000000002" y="-2.1" width="3.3600000000000003" height="4.2" rx="0.6" fill="#222" stroke="#000" stroke-width="0.5"/><path d="M-1.6800000000000002,0 L1.6800000000000002,0" stroke="#888" stroke-width="0.5"/></g>
<g transform="translate(533.8,96.3) rotate(25)"><path class="w" d="M1.8,-1.0 L5.7,-1.0 L6.6000000000000005,0 L5.7,1.0 L1.8,1.0 Z" stroke-width="0.6"/><path d="M3.0,-1.0 L3.0,1.0" stroke-width="0.5"/><rect x="-1.6800000000000002" y="-2.1" width="3.3600000000000003" height="4.2" rx="0.6" fill="#222" stroke="#000" stroke-width="0.5"/><path d="M-1.6800000000000002,0 L1.6800000000000002,0" stroke="#888" stroke-width="0.5"/></g>
<g transform="translate(536.9,104.4) rotate(25)"><path class="w" d="M1.8,-1.0 L5.7,-1.0 L6.6000000000000005,0 L5.7,1.0 L1.8,1.0 Z" stroke-width="0.6"/><path d="M3.0,-1.0 L3.0,1.0" stroke-width="0.5"/><rect x="-1.6800000000000002" y="-2.1" width="3.3600000000000003" height="4.2" rx="0.6" fill="#222" stroke="#000" stroke-width="0.5"/><path d="M-1.6800000000000002,0 L1.6800000000000002,0" stroke="#888" stroke-width="0.5"/></g>
<g transform="translate(536.3,118.8) rotate(25)"><path class="w" d="M1.8,-1.0 L5.7,-1.0 L6.6000000000000005,0 L5.7,1.0 L1.8,1.0 Z" stroke-width="0.6"/><path d="M3.0,-1.0 L3.0,1.0" stroke-width="0.5"/><rect x="-1.6800000000000002" y="-2.1" width="3.3600000000000003" height="4.2" rx="0.6" fill="#222" stroke="#000" stroke-width="0.5"/><path d="M-1.6800000000000002,0 L1.6800000000000002,0" stroke="#888" stroke-width="0.5"/></g>
<g transform="translate(645.8,107.5) rotate(130)"><path class="w" d="M1.8,-1.0 L5.7,-1.0 L6.6000000000000005,0 L5.7,1.0 L1.8,1.0 Z" stroke-width="0.6"/><path d="M3.0,-1.0 L3.0,1.0" stroke-width="0.5"/><rect x="-1.6800000000000002" y="-2.1" width="3.3600000000000003" height="4.2" rx="0.6" fill="#222" stroke="#000" stroke-width="0.5"/><path d="M-1.6800000000000002,0 L1.6800000000000002,0" stroke="#888" stroke-width="0.5"/></g>
<g transform="translate(690,173.8) rotate(210)"><path class="w" d="M1.8,-1.0 L5.7,-1.0 L6.6000000000000005,0 L5.7,1.0 L1.8,1.0 Z" stroke-width="0.6"/><path d="M3.0,-1.0 L3.0,1.0" stroke-width="0.5"/><rect x="-1.6800000000000002" y="-2.1" width="3.3600000000000003" height="4.2" rx="0.6" fill="#222" stroke="#000" stroke-width="0.5"/><path d="M-1.6800000000000002,0 L1.6800000000000002,0" stroke="#888" stroke-width="0.5"/></g>
<g transform="translate(680.8,177.5) rotate(210)"><path class="w" d="M1.8,-1.0 L5.7,-1.0 L6.6000000000000005,0 L5.7,1.0 L1.8,1.0 Z" stroke-width="0.6"/><path d="M3.0,-1.0 L3.0,1.0" stroke-width="0.5"/><rect x="-1.6800000000000002" y="-2.1" width="3.3600000000000003" height="4.2" rx="0.6" fill="#222" stroke="#000" stroke-width="0.5"/><path d="M-1.6800000000000002,0 L1.6800000000000002,0" stroke="#888" stroke-width="0.5"/></g>
<g transform="translate(615,227.5) rotate(210)"><path class="w" d="M1.8,-1.0 L5.7,-1.0 L6.6000000000000005,0 L5.7,1.0 L1.8,1.0 Z" stroke-width="0.6"/><path d="M3.0,-1.0 L3.0,1.0" stroke-width="0.5"/><rect x="-1.6800000000000002" y="-2.1" width="3.3600000000000003" height="4.2" rx="0.6" fill="#222" stroke="#000" stroke-width="0.5"/><path d="M-1.6800000000000002,0 L1.6800000000000002,0" stroke="#888" stroke-width="0.5"/></g>
<g transform="translate(606,232.5) rotate(210)"><path class="w" d="M1.8,-1.0 L5.7,-1.0 L6.6000000000000005,0 L5.7,1.0 L1.8,1.0 Z" stroke-width="0.6"/><path d="M3.0,-1.0 L3.0,1.0" stroke-width="0.5"/><rect x="-1.6800000000000002" y="-2.1" width="3.3600000000000003" height="4.2" rx="0.6" fill="#222" stroke="#000" stroke-width="0.5"/><path d="M-1.6800000000000002,0 L1.6800000000000002,0" stroke="#888" stroke-width="0.5"/></g>
<g transform="translate(374.5,135.5) rotate(-40)"><path class="w" d="M1.8,-1.0 L5.7,-1.0 L6.6000000000000005,0 L5.7,1.0 L1.8,1.0 Z" stroke-width="0.6"/><path d="M3.0,-1.0 L3.0,1.0" stroke-width="0.5"/><rect x="-1.6800000000000002" y="-2.1" width="3.3600000000000003" height="4.2" rx="0.6" fill="#222" stroke="#000" stroke-width="0.5"/><path d="M-1.6800000000000002,0 L1.6800000000000002,0" stroke="#888" stroke-width="0.5"/></g>
<g transform="translate(432.5,158.3) rotate(28)"><path class="w" d="M1.8,-1.0 L5.7,-1.0 L6.6000000000000005,0 L5.7,1.0 L1.8,1.0 Z" stroke-width="0.6"/><path d="M3.0,-1.0 L3.0,1.0" stroke-width="0.5"/><rect x="-1.6800000000000002" y="-2.1" width="3.3600000000000003" height="4.2" rx="0.6" fill="#222" stroke="#000" stroke-width="0.5"/><path d="M-1.6800000000000002,0 L1.6800000000000002,0" stroke="#888" stroke-width="0.5"/></g>
<g transform="translate(362.5,225.5) rotate(-90)"><path class="w" d="M1.8,-1.0 L5.7,-1.0 L6.6000000000000005,0 L5.7,1.0 L1.8,1.0 Z" stroke-width="0.6"/><path d="M3.0,-1.0 L3.0,1.0" stroke-width="0.5"/><rect x="-1.6800000000000002" y="-2.1" width="3.3600000000000003" height="4.2" rx="0.6" fill="#222" stroke="#000" stroke-width="0.5"/><path d="M-1.6800000000000002,0 L1.6800000000000002,0" stroke="#888" stroke-width="0.5"/></g>
<g transform="translate(244,184) rotate(30)"><path class="w" d="M1.8,-1.0 L5.7,-1.0 L6.6000000000000005,0 L5.7,1.0 L1.8,1.0 Z" stroke-width="0.6"/><path d="M3.0,-1.0 L3.0,1.0" stroke-width="0.5"/><rect x="-1.6800000000000002" y="-2.1" width="3.3600000000000003" height="4.2" rx="0.6" fill="#222" stroke="#000" stroke-width="0.5"/><path d="M-1.6800000000000002,0 L1.6800000000000002,0" stroke="#888" stroke-width="0.5"/></g>
<g transform="translate(301.8,242.5) rotate(-90)"><path class="w" d="M1.8,-1.0 L5.7,-1.0 L6.6000000000000005,0 L5.7,1.0 L1.8,1.0 Z" stroke-width="0.6"/><path d="M3.0,-1.0 L3.0,1.0" stroke-width="0.5"/><rect x="-1.6800000000000002" y="-2.1" width="3.3600000000000003" height="4.2" rx="0.6" fill="#222" stroke="#000" stroke-width="0.5"/><path d="M-1.6800000000000002,0 L1.6800000000000002,0" stroke="#888" stroke-width="0.5"/></g>
<g transform="translate(274.5,255.5) rotate(-90)"><path class="w" d="M1.8,-1.0 L5.7,-1.0 L6.6000000000000005,0 L5.7,1.0 L1.8,1.0 Z" stroke-width="0.6"/><path d="M3.0,-1.0 L3.0,1.0" stroke-width="0.5"/><rect x="-1.6800000000000002" y="-2.1" width="3.3600000000000003" height="4.2" rx="0.6" fill="#222" stroke="#000" stroke-width="0.5"/><path d="M-1.6800000000000002,0 L1.6800000000000002,0" stroke="#888" stroke-width="0.5"/></g>
<g transform="translate(266,290) rotate(90)"><path class="w" d="M1.8,-1.0 L5.7,-1.0 L6.6000000000000005,0 L5.7,1.0 L1.8,1.0 Z" stroke-width="0.6"/><path d="M3.0,-1.0 L3.0,1.0" stroke-width="0.5"/><rect x="-1.6800000000000002" y="-2.1" width="3.3600000000000003" height="4.2" rx="0.6" fill="#222" stroke="#000" stroke-width="0.5"/><path d="M-1.6800000000000002,0 L1.6800000000000002,0" stroke="#888" stroke-width="0.5"/></g>
<g transform="translate(214.5,115) rotate(30)"><path class="w" d="M1.8,-1.0 L5.7,-1.0 L6.6000000000000005,0 L5.7,1.0 L1.8,1.0 Z" stroke-width="0.6"/><path d="M3.0,-1.0 L3.0,1.0" stroke-width="0.5"/><rect x="-1.6800000000000002" y="-2.1" width="3.3600000000000003" height="4.2" rx="0.6" fill="#222" stroke="#000" stroke-width="0.5"/><path d="M-1.6800000000000002,0 L1.6800000000000002,0" stroke="#888" stroke-width="0.5"/></g>
<g transform="translate(445,376.5) rotate(20)"><path class="w" d="M1.8,-1.0 L5.7,-1.0 L6.6000000000000005,0 L5.7,1.0 L1.8,1.0 Z" stroke-width="0.6"/><path d="M3.0,-1.0 L3.0,1.0" stroke-width="0.5"/><rect x="-1.6800000000000002" y="-2.1" width="3.3600000000000003" height="4.2" rx="0.6" fill="#222" stroke="#000" stroke-width="0.5"/><path d="M-1.6800000000000002,0 L1.6800000000000002,0" stroke="#888" stroke-width="0.5"/></g>
<g transform="translate(345.5,375.5) rotate(210)"><path class="w" d="M1.8,-1.0 L5.7,-1.0 L6.6000000000000005,0 L5.7,1.0 L1.8,1.0 Z" stroke-width="0.6"/><path d="M3.0,-1.0 L3.0,1.0" stroke-width="0.5"/><rect x="-1.6800000000000002" y="-2.1" width="3.3600000000000003" height="4.2" rx="0.6" fill="#222" stroke="#000" stroke-width="0.5"/><path d="M-1.6800000000000002,0 L1.6800000000000002,0" stroke="#888" stroke-width="0.5"/></g>
<g transform="translate(340,381) rotate(210)"><path class="w" d="M1.8,-1.0 L5.7,-1.0 L6.6000000000000005,0 L5.7,1.0 L1.8,1.0 Z" stroke-width="0.6"/><path d="M3.0,-1.0 L3.0,1.0" stroke-width="0.5"/><rect x="-1.6800000000000002" y="-2.1" width="3.3600000000000003" height="4.2" rx="0.6" fill="#222" stroke="#000" stroke-width="0.5"/><path d="M-1.6800000000000002,0 L1.6800000000000002,0" stroke="#888" stroke-width="0.5"/></g>
<g transform="translate(493.1,355.6) rotate(235)"><path class="w" d="M1.8,-1.0 L5.7,-1.0 L6.6000000000000005,0 L5.7,1.0 L1.8,1.0 Z" stroke-width="0.6"/><path d="M3.0,-1.0 L3.0,1.0" stroke-width="0.5"/><rect x="-1.6800000000000002" y="-2.1" width="3.3600000000000003" height="4.2" rx="0.6" fill="#222" stroke="#000" stroke-width="0.5"/><path d="M-1.6800000000000002,0 L1.6800000000000002,0" stroke="#888" stroke-width="0.5"/></g>
<g transform="translate(534.4,368.8) rotate(215)"><path class="w" d="M1.8,-1.0 L5.7,-1.0 L6.6000000000000005,0 L5.7,1.0 L1.8,1.0 Z" stroke-width="0.6"/><path d="M3.0,-1.0 L3.0,1.0" stroke-width="0.5"/><rect x="-1.6800000000000002" y="-2.1" width="3.3600000000000003" height="4.2" rx="0.6" fill="#222" stroke="#000" stroke-width="0.5"/><path d="M-1.6800000000000002,0 L1.6800000000000002,0" stroke="#888" stroke-width="0.5"/></g>
<g transform="translate(625,331.3) rotate(215)"><path class="w" d="M1.8,-1.0 L5.7,-1.0 L6.6000000000000005,0 L5.7,1.0 L1.8,1.0 Z" stroke-width="0.6"/><path d="M3.0,-1.0 L3.0,1.0" stroke-width="0.5"/><rect x="-1.6800000000000002" y="-2.1" width="3.3600000000000003" height="4.2" rx="0.6" fill="#222" stroke="#000" stroke-width="0.5"/><path d="M-1.6800000000000002,0 L1.6800000000000002,0" stroke="#888" stroke-width="0.5"/></g>
<g transform="translate(375.6,505.5) rotate(-90)"><path class="w" d="M1.8,-1.0 L5.7,-1.0 L6.6000000000000005,0 L5.7,1.0 L1.8,1.0 Z" stroke-width="0.6"/><path d="M3.0,-1.0 L3.0,1.0" stroke-width="0.5"/><rect x="-1.6800000000000002" y="-2.1" width="3.3600000000000003" height="4.2" rx="0.6" fill="#222" stroke="#000" stroke-width="0.5"/><path d="M-1.6800000000000002,0 L1.6800000000000002,0" stroke="#888" stroke-width="0.5"/></g>
<g transform="translate(405.5,521) rotate(90)"><path class="w" d="M1.8,-1.0 L5.7,-1.0 L6.6000000000000005,0 L5.7,1.0 L1.8,1.0 Z" stroke-width="0.6"/><path d="M3.0,-1.0 L3.0,1.0" stroke-width="0.5"/><rect x="-1.6800000000000002" y="-2.1" width="3.3600000000000003" height="4.2" rx="0.6" fill="#222" stroke="#000" stroke-width="0.5"/><path d="M-1.6800000000000002,0 L1.6800000000000002,0" stroke="#888" stroke-width="0.5"/></g>
<g transform="translate(352,593.5) rotate(-90)"><path class="w" d="M1.8,-1.0 L5.7,-1.0 L6.6000000000000005,0 L5.7,1.0 L1.8,1.0 Z" stroke-width="0.6"/><path d="M3.0,-1.0 L3.0,1.0" stroke-width="0.5"/><rect x="-1.6800000000000002" y="-2.1" width="3.3600000000000003" height="4.2" rx="0.6" fill="#222" stroke="#000" stroke-width="0.5"/><path d="M-1.6800000000000002,0 L1.6800000000000002,0" stroke="#888" stroke-width="0.5"/></g>
<g transform="translate(359.8,588.5) rotate(-90)"><path class="w" d="M1.8,-1.0 L5.7,-1.0 L6.6000000000000005,0 L5.7,1.0 L1.8,1.0 Z" stroke-width="0.6"/><path d="M3.0,-1.0 L3.0,1.0" stroke-width="0.5"/><rect x="-1.6800000000000002" y="-2.1" width="3.3600000000000003" height="4.2" rx="0.6" fill="#222" stroke="#000" stroke-width="0.5"/><path d="M-1.6800000000000002,0 L1.6800000000000002,0" stroke="#888" stroke-width="0.5"/></g>
<g transform="translate(308.8,667.5) rotate(90)"><path class="w" d="M1.8,-1.0 L5.7,-1.0 L6.6000000000000005,0 L5.7,1.0 L1.8,1.0 Z" stroke-width="0.6"/><path d="M3.0,-1.0 L3.0,1.0" stroke-width="0.5"/><rect x="-1.6800000000000002" y="-2.1" width="3.3600000000000003" height="4.2" rx="0.6" fill="#222" stroke="#000" stroke-width="0.5"/><path d="M-1.6800000000000002,0 L1.6800000000000002,0" stroke="#888" stroke-width="0.5"/></g>
</g>

<g id="leaders" class="ld">
<path d="M249.4,98.1 L237.5,109.4"/>
<path d="M199.4,122.5 L212.5,116.9"/>
<path d="M203,175 L217.5,186.5"/>
<path d="M276,169 L247,183"/>
<path d="M338,122.5 L372.5,135.5"/>
<path d="M355,94 L367.5,111"/>
<path d="M335,187.5 L352.5,203.75"/>
<path d="M320,245 L302.5,242.5 M320,251 L275,256 M341,243 L360,226.5"/>
<path d="M222.5,257.5 L240,246"/>
<path d="M415,167 L431,160"/>
<path d="M437.5,187 L452.5,180.5"/>
<path d="M540,25 L526,47.5"/>
<path d="M578.75,28.75 L565,48.75"/>
<path d="M491,56 L505,40.5 M494,64.5 L530,71 M494,65.5 L521,75"/>
<path d="M517,96 L532.5,95 M517,99.5 L536,104.5 M517,100.5 L535,117.5"/>
<path d="M613.75,72.5 L606,94"/>
<path d="M590,171.25 L531.9,175.6 M590,172 L527.5,182.5"/>
<path d="M616,194.5 L593.75,192.5"/>
<path d="M656,91 L645,107.5"/>
<path d="M688.75,113.75 L681,126"/>
<path d="M693.75,196 L690,174 M692.5,196 L681,177.5"/>
<path d="M626,241 L615,227.5 M622.5,241 L606,232.5"/>
<path d="M256,282 L265,290"/>
<path d="M225,340 L241,347.5"/>
<path d="M191,361 L206,372.5"/>
<path d="M290,399 L296,377.5"/>
<path d="M396,345 L412.5,302.5"/>
<path d="M351,387.5 L345,375.5 M351,388 L339.5,380.5"/>
<path d="M341,426 L352,438 M342.5,425 L359,434.5"/>
<path d="M437.5,365.5 L445,373.75"/>
<path d="M463.75,409.5 L450,395"/>
<path d="M502.5,381 L493.75,355 M513.75,382 L533.75,368.75"/>
<path d="M512.5,313.75 L503.75,330"/>
<path d="M495,288.75 L480,302.5"/>
<path d="M615,272.5 L620,286 M617.5,272.5 L626,281"/>
<path d="M559.4,297 L568.1,290.6"/>
<path d="M561,338.75 L542.5,345"/>
<path d="M640,340.5 L650,326"/>
<path d="M616,349.5 L623.75,333.75"/>
<path d="M567.5,398 L580,385"/>
<path d="M176,458.75 L157,466"/>
<path d="M176,480 L155.5,487"/>
<path d="M133.75,493.75 L143.75,496.25"/>
<path d="M132.5,515 L147.5,512.5"/>
<path d="M192,506 L200,499.5"/>
<path d="M256,483.75 L266,503"/>
<path d="M132.5,550.5 L147.5,551.75"/>
<path d="M130.5,572.5 L143.75,568"/>
<path d="M181,597 L200,575"/>
<path d="M284.4,500 L288.75,520"/>
<path d="M336,492.5 L340,483.75"/>
<path d="M392.5,503 L377.5,503"/>
<path d="M423,535.6 L406.9,523.75"/>
<path d="M336,551 L350,565 M340,551 L357.5,561"/>
<path d="M393.75,564 L376,547.5"/>
<path d="M296,576 L285,541"/>
<path d="M360,609 L351,592 M362,609 L359,589"/>
<path d="M419,631 L392.5,642.5"/>
<path d="M419,657 L391,656"/>
<path d="M321.3,648 L309,665.5"/>
<path d="M290,672.5 L305,685"/>
<path d="M356,685 L339,670"/>
<path d="M291,757 L264.5,743"/>
<path d="M113.75,628.75 L126,594"/>
<path d="M237.5,635 L217.5,651.25"/>
<path d="M283.75,633 L263.75,650"/>
<path d="M158.75,697.5 L138.75,681.25"/>
<path d="M237.5,693.75 L257.5,698.75"/>
<path d="M208.5,763.1 L221.25,751.9"/>
<path d="M250,778.75 L255,767.5"/>
</g>
<g id="tleaders" class="ld" style="stroke-width:1.25">
<path d="M270.6,464.4 L266.9,503"/>
<path d="M432,493.5 L365,437.5 M432,493.5 L357.5,442.5"/>
<path d="M424,690.5 L391,659"/>
<path d="M348.75,754.6 L266,740"/>
<path d="M183.75,740.4 L223.1,748.1"/>
</g>


<g class="l">
<text x="532.5" y="23.9" textLength="20" lengthAdjust="spacingAndGlyphs">0560</text>
<text x="570" y="28.4" textLength="20" lengthAdjust="spacingAndGlyphs">0550</text>
<text x="473" y="63.9" textLength="21" lengthAdjust="spacingAndGlyphs">0220</text>
<text x="497" y="101.4" textLength="20" lengthAdjust="spacingAndGlyphs">0230</text>
<text x="610" y="71.9" textLength="21" lengthAdjust="spacingAndGlyphs">0210</text>
<text x="591" y="173.4" textLength="21" lengthAdjust="spacingAndGlyphs">0100</text>
<text x="617.5" y="199.4" textLength="20.5" lengthAdjust="spacingAndGlyphs">0180</text>
<text x="649" y="89.9" textLength="20" lengthAdjust="spacingAndGlyphs">0230</text>
<text x="681" y="112.9" textLength="20" lengthAdjust="spacingAndGlyphs">0550</text>
<text x="684" y="204.9" textLength="20.5" lengthAdjust="spacingAndGlyphs">0220</text>
<text x="622.5" y="248.4" textLength="20" lengthAdjust="spacingAndGlyphs">0230</text>
<text x="243" y="95.4" textLength="21" lengthAdjust="spacingAndGlyphs">0370</text>
<text x="176" y="129.9" textLength="21" lengthAdjust="spacingAndGlyphs">0340</text>
<text x="186" y="172.4" textLength="20" lengthAdjust="spacingAndGlyphs">0190</text>
<text x="276" y="169.9" textLength="20" lengthAdjust="spacingAndGlyphs">0220</text>
<text x="320" y="183.9" textLength="20.5" lengthAdjust="spacingAndGlyphs">0580</text>
<text x="317.5" y="121.9" textLength="20.5" lengthAdjust="spacingAndGlyphs">0220</text>
<text x="320.5" y="252.4" textLength="20.5" lengthAdjust="spacingAndGlyphs">0220</text>
<text x="202.5" y="263.4" textLength="20.5" lengthAdjust="spacingAndGlyphs">0100</text>
<text x="341" y="92.4" textLength="20" lengthAdjust="spacingAndGlyphs">0570</text>
<text x="394.5" y="174.4" textLength="20.5" lengthAdjust="spacingAndGlyphs">0220</text>
<text x="417" y="192.4" textLength="20.5" lengthAdjust="spacingAndGlyphs">0480</text>
<text x="238" y="280.4" textLength="21" lengthAdjust="spacingAndGlyphs">0230</text>
<text x="205.5" y="338.4" textLength="20.5" lengthAdjust="spacingAndGlyphs">0280</text>
<text x="174.5" y="360.4" textLength="20.5" lengthAdjust="spacingAndGlyphs">0290</text>
<text x="278" y="406.4" textLength="20.5" lengthAdjust="spacingAndGlyphs">0100</text>
<text x="382" y="353.4" textLength="20.5" lengthAdjust="spacingAndGlyphs">0100</text>
<text x="351.5" y="396.9" textLength="20.5" lengthAdjust="spacingAndGlyphs">0230</text>
<text x="322" y="426.4" textLength="20" lengthAdjust="spacingAndGlyphs">0150</text>
<text x="424" y="363.9" textLength="21" lengthAdjust="spacingAndGlyphs">0340</text>
<text x="457.5" y="418.4" textLength="20.5" lengthAdjust="spacingAndGlyphs">0330</text>
<text x="494" y="390.4" textLength="20" lengthAdjust="spacingAndGlyphs">0220</text>
<text x="506" y="313.4" textLength="20" lengthAdjust="spacingAndGlyphs">0240</text>
<text x="489.5" y="287.4" textLength="20.5" lengthAdjust="spacingAndGlyphs">0100</text>
<text x="601" y="270.9" textLength="21" lengthAdjust="spacingAndGlyphs">0600</text>
<text x="539" y="307.4" textLength="20" lengthAdjust="spacingAndGlyphs">0470</text>
<text x="562" y="338.4" textLength="20.5" lengthAdjust="spacingAndGlyphs">0420</text>
<text x="630" y="348.4" textLength="20.5" lengthAdjust="spacingAndGlyphs">0540</text>
<text x="602.5" y="357.4" textLength="20.5" lengthAdjust="spacingAndGlyphs">0220</text>
<text x="550" y="406.4" textLength="20.5" lengthAdjust="spacingAndGlyphs">0320</text>
<text x="177" y="458.4" textLength="20.5" lengthAdjust="spacingAndGlyphs">0010</text>
<text x="177" y="478.4" textLength="20.5" lengthAdjust="spacingAndGlyphs">0020</text>
<text x="112.5" y="496.4" textLength="20.5" lengthAdjust="spacingAndGlyphs">0030</text>
<text x="111" y="518.9" textLength="21" lengthAdjust="spacingAndGlyphs">0045</text>
<text x="177" y="516.4" textLength="20.5" lengthAdjust="spacingAndGlyphs">0100</text>
<text x="243" y="481.9" textLength="20.5" lengthAdjust="spacingAndGlyphs">0090</text>
<text x="111" y="553.4" textLength="20" lengthAdjust="spacingAndGlyphs">0045</text>
<text x="109" y="579.4" textLength="20" lengthAdjust="spacingAndGlyphs">0030</text>
<text x="174" y="604.4" textLength="20" lengthAdjust="spacingAndGlyphs">0040</text>
<text x="273" y="497.9" textLength="20" lengthAdjust="spacingAndGlyphs">0100</text>
<text x="315.5" y="504.9" textLength="20.5" lengthAdjust="spacingAndGlyphs">0490</text>
<text x="392.5" y="507.4" textLength="20.5" lengthAdjust="spacingAndGlyphs">0230</text>
<text x="422" y="544.9" textLength="20" lengthAdjust="spacingAndGlyphs">0305</text>
<text x="321" y="549.9" textLength="20" lengthAdjust="spacingAndGlyphs">0510</text>
<text x="392.5" y="571.9" textLength="20.5" lengthAdjust="spacingAndGlyphs">0500</text>
<text x="290" y="585.4" textLength="20.5" lengthAdjust="spacingAndGlyphs">0080</text>
<text x="355.5" y="618.4" textLength="20.5" lengthAdjust="spacingAndGlyphs">0520</text>
<text x="419" y="631.4" textLength="20.5" lengthAdjust="spacingAndGlyphs">0306</text>
<text x="419.5" y="659.4" textLength="20.5" lengthAdjust="spacingAndGlyphs">0590</text>
<text x="312.5" y="646.4" textLength="20.5" lengthAdjust="spacingAndGlyphs">0305</text>
<text x="274.4" y="670.4" textLength="20" lengthAdjust="spacingAndGlyphs">0306</text>
<text x="356" y="693.9" textLength="21" lengthAdjust="spacingAndGlyphs">0300</text>
<text x="293" y="764.9" textLength="21" lengthAdjust="spacingAndGlyphs">0150</text>
<text x="98" y="635.4" textLength="21" lengthAdjust="spacingAndGlyphs">0050</text>
<text x="231.25" y="632.9" textLength="19.75" lengthAdjust="spacingAndGlyphs">0130</text>
<text x="278" y="631.4" textLength="20" lengthAdjust="spacingAndGlyphs">0110</text>
<text x="157" y="706.9" textLength="20.5" lengthAdjust="spacingAndGlyphs">0140</text>
<text x="215" y="693.4" textLength="20.5" lengthAdjust="spacingAndGlyphs">0120</text>
<text x="190.5" y="772.4" textLength="20.5" lengthAdjust="spacingAndGlyphs">0530</text>
<text x="224" y="788.4" textLength="20" lengthAdjust="spacingAndGlyphs">0160</text>
</g>
<g class="t">
<text x="258" y="436.6" textLength="35" lengthAdjust="spacingAndGlyphs" font-size="10.2">Torque to</text>
<text x="258" y="447.9" textLength="40.75" lengthAdjust="spacingAndGlyphs" font-size="10.2">150 ft. lbs.</text>
<text x="258" y="459.1" textLength="39" lengthAdjust="spacingAndGlyphs" font-size="10.2">(204 Nm.)</text>
<text x="436.2" y="494.6" textLength="38.8" lengthAdjust="spacingAndGlyphs" font-size="11.2">Torque to</text>
<text x="436.2" y="507.1" textLength="40" lengthAdjust="spacingAndGlyphs" font-size="11.2">40 ft. lbs.</text>
<text x="436.2" y="519.6" textLength="46.2" lengthAdjust="spacingAndGlyphs" font-size="11.2">(54.2 Nm.)</text>
<text x="420.4" y="703.7" textLength="38.7" lengthAdjust="spacingAndGlyphs" font-size="11.2">Torque to</text>
<text x="420.4" y="716.2" textLength="40" lengthAdjust="spacingAndGlyphs" font-size="11.2">20 ft. lbs.</text>
<text x="420.4" y="728.7" textLength="46.2" lengthAdjust="spacingAndGlyphs" font-size="11.2">(27.2 Nm.)</text>
<text x="353.7" y="750.8" textLength="38.5" lengthAdjust="spacingAndGlyphs" font-size="11.2">Torque to</text>
<text x="353.7" y="763.3" textLength="40.2" lengthAdjust="spacingAndGlyphs" font-size="11.2">30 ft. lbs.</text>
<text x="353.7" y="775.8" textLength="46.2" lengthAdjust="spacingAndGlyphs" font-size="11.2">(40.8 Nm.)</text>
<text x="142.1" y="739.8" textLength="38.9" lengthAdjust="spacingAndGlyphs" font-size="11.2">Torque to</text>
<text x="142.1" y="752.2" textLength="39.8" lengthAdjust="spacingAndGlyphs" font-size="11.2">20 ft. lbs.</text>
<text x="142.1" y="764.6" textLength="46.2" lengthAdjust="spacingAndGlyphs" font-size="11.2">(27.2 Nm.)</text>
</g>
</svg>
</body></html>
